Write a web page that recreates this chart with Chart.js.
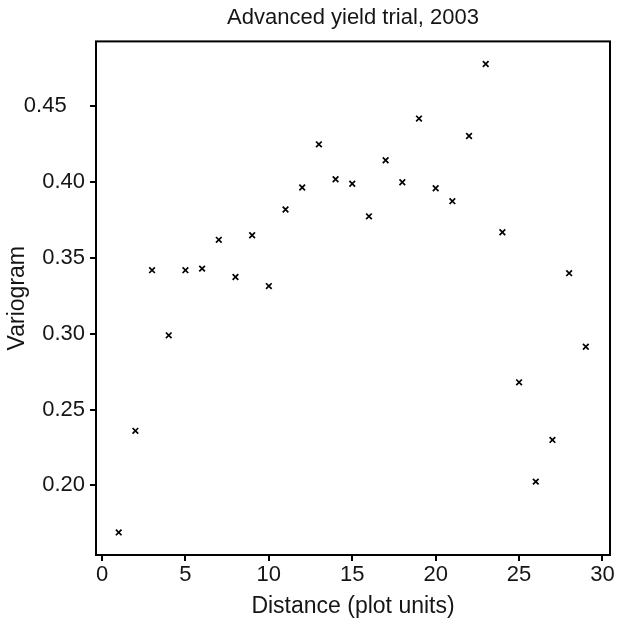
<!DOCTYPE html>
<html>
<head>
<meta charset="utf-8">
<script src="https://cdn.jsdelivr.net/npm/chart.js@4"></script>
<style>
  html, body { margin: 0; padding: 0; background: #fff; }
  #wrap { width: 617px; height: 624px; }
</style>
</head>
<body>
<div id="wrap"><canvas id="js--chart"></canvas></div>
<script>
// distance lags and variogram values
const distance = [1,2,3,4,5,6,7,8,9,10,11,12,13,14,15,16,17,18,19,20,21,22,23,24,25,26,27,28,29];
const variogram = [0.169,0.236,0.342,0.299,0.342,0.343,0.362,0.3375,0.365,0.3315,0.382,0.3965,0.425,0.402,0.399,0.3775,0.4145,0.400,0.442,0.396,0.3875,0.4305,0.478,0.367,0.268,0.2025,0.230,0.340,0.2915];
const xTicks = [0,5,10,15,20,25,30];
const yTicks = [0.20,0.25,0.30,0.35,0.40,0.45];

const points = distance.map((d, i) => ({x: d, y: variogram[i]}));
const FONT = "'Liberation Sans', Arial, sans-serif";
const TXT = "#151515";

// box round the plot area
const frame = {
    id: "frame",
    afterDraw(chart) {
        const a = chart.chartArea;
        const ctx = chart.ctx;
        ctx.save();
        ctx.strokeStyle = "#000";
        ctx.lineWidth = 2;
        ctx.strokeRect(a.left, a.top, a.right - a.left, a.bottom - a.top);
        ctx.restore();
    }
};

const config = {
    type: "scatter",
    data: {
        datasets: [{
            data: points,
            pointStyle: "crossRot",
            pointRadius: 4,
            pointHoverRadius: 4,
            borderColor: "#000",
            backgroundColor: "#000",
            borderWidth: 1.7
        }]
    },
    options: {
        responsive: true,
        maintainAspectRatio: false,
        animation: false,
        layout: { padding: { left: 0, right: 7, top: 0, bottom: 0 } },
        plugins: {
            legend: { display: false },
            tooltip: { enabled: false },
            title: {
                display: true,
                fullSize: false,
                text: "Advanced yield trial, 2003",
                color: TXT,
                font: { family: FONT, size: 22, weight: "normal" },
                padding: { top: 5, bottom: 10 }
            }
        },
        scales: {
            x: {
                type: "linear",
                min: -0.36,
                max: 30.45,
                afterBuildTicks: (s) => { s.ticks = xTicks.map(v => ({value: v})); },
                afterFit: (s) => { s.height = 69; },
                grid: { drawOnChartArea: false, drawTicks: true, tickLength: 6, color: "#000", lineWidth: 2 },
                border: { display: false },
                ticks: { color: TXT, font: { family: FONT, size: 22 }, padding: 1, maxRotation: 0 },
                title: { display: true, text: "Distance (plot units)", color: TXT, font: { family: FONT, size: 23 }, padding: { top: 0 } }
            },
            y: {
                min: 0.1541,
                max: 0.4929,
                afterBuildTicks: (s) => { s.ticks = yTicks.map(v => ({value: v})); },
                afterFit: (s) => { s.width = 96; },
                grid: { drawOnChartArea: false, drawTicks: true, tickLength: 6, color: "#000", lineWidth: 2 },
                border: { display: false },
                ticks: {
                    color: TXT,
                    font: { family: FONT, size: 22 },
                    padding: 5,
                    callback: (v) => v === 0.45 ? v.toFixed(2) + "   " : v.toFixed(2)
                },
                title: { display: true, text: "Variogram", color: TXT, font: { family: FONT, size: 23 }, padding: { bottom: 2 } }
            }
        }
    },
    plugins: [frame]
};

new Chart(document.getElementById("js--chart"), config);
</script>
</body>
</html>
